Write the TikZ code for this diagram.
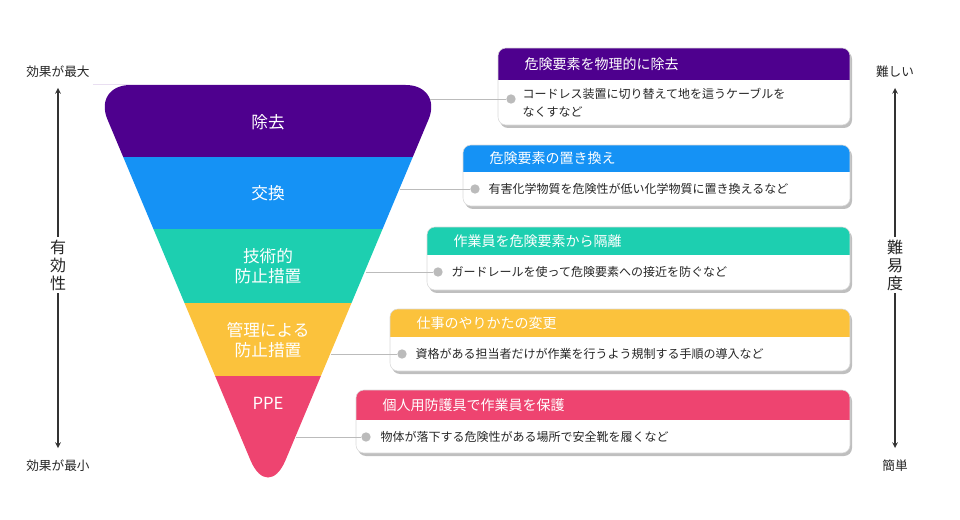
\documentclass[tikz,border=0pt]{standalone}
\usepackage{fontspec}
\setmainfont{Noto Sans CJK JP}
\usetikzlibrary{calc}
\definecolor{cP}{HTML}{4E008E}
\definecolor{cB}{HTML}{1592F5}
\definecolor{cT}{HTML}{1DCFB0}
\definecolor{cY}{HTML}{FBC23C}
\definecolor{cR}{HTML}{EE4470}
\definecolor{cG}{HTML}{BBBBBB}
\tikzset{
 flab/.style={text=white,font=\fontsize{12.5}{15}\selectfont,align=center},
 ttl/.style={text=white,font=\fontsize{10.5}{12}\selectfont,anchor=west},
 bod/.style={text=black!85,font=\fontsize{9}{13.5}\selectfont,anchor=west,align=left},
 dotc/.style={circle,fill=cG,inner sep=0pt,minimum size=7pt},
 conn/.style={draw=cG,line width=0.6pt},
 axl/.style={font=\fontsize{9.5}{11}\selectfont,text=black!85},
 vlab/.style={font=\fontsize{12}{13.5}\selectfont,fill=white,align=center,inner sep=2pt,text=black!85},
 arr/.style={line width=0.9pt,black!80,<->,>=stealth}
}
\newcommand\callbox[5]{% x1 ytop ymid ybot color
 \fill[black!25,rounded corners=6] (#1+2,#2+3) rectangle (852,#4+3);
 \begin{scope}
 \clip[rounded corners=6] (#1,#2) rectangle (850,#4);
 \fill[white] (#1,#2) rectangle (850,#4);
 \fill[#5] (#1,#2) rectangle (850,#3);
 \end{scope}
 \draw[black!15,rounded corners=6,line width=0.4pt] (#1,#2) rectangle (850,#4);
}
\begin{document}
\begin{tikzpicture}[x=0.75pt,y=-0.75pt]
\useasboundingbox (0,0) rectangle (960,520);
% funnel
\begin{scope}
\clip (93,85) [rounded corners=28] -- (443,85) [rounded corners=34] -- (268,502) [rounded corners=28] -- (93,85) -- (200,85) [sharp corners] -- cycle;
\fill[cP] (80,80) rectangle (460,157);
\fill[cB] (80,157) rectangle (460,229);
\fill[cT] (80,229) rectangle (460,303);
\fill[cY] (80,303) rectangle (460,376);
\fill[cR] (80,376) rectangle (460,510);
\end{scope}
\node[flab] (f1) at (268,122) {除去};
\node[flab] (f2) at (268,193) {交換};
\node[flab] (f3) at (268,266) {技術的\\防止措置};
\node[flab] (f4) at (268,340) {管理による\\防止措置};
\node[flab] (f5) at (268,403) {PPE};
% callouts
\callbox{498}{48}{80}{125}{cP}
\node[ttl] (t1) at (520,64) {危険要素を物理的に除去};
\node[bod] (b1) at (518,103) {コードレス装置に切り替えて地を這うケーブルを\\なくすなど};
\callbox{463}{145}{172}{206}{cB}
\node[ttl] (t2) at (485,158) {危険要素の置き換え};
\node[bod] (b2) at (484,189) {有害化学物質を危険性が低い化学物質に置き換えるなど};
\callbox{427}{227}{255}{290}{cT}
\node[ttl] (t3) at (449,241) {作業員を危険要素から隔離};
\node[bod] (b3) at (447,272) {ガードレールを使って危険要素への接近を防ぐなど};
\callbox{390}{309}{337}{371}{cY}
\node[ttl] (t4) at (412,323) {仕事のやりかたの変更};
\node[bod] (b4) at (411,354) {資格がある担当者だけが作業を行うよう規制する手順の導入など};
\callbox{356}{390}{420}{453}{cR}
\node[ttl] (t5) at (378,405) {個人用防護具で作業員を保護};
\node[bod] (b5) at (376,437) {物体が落下する危険性がある場所で安全靴を履くなど};
% dots and connectors
\node[dotc] (d1) at (511,99) {};
\node[dotc] (d2) at (475,189) {};
\node[dotc] (d3) at (438,272) {};
\node[dotc] (d4) at (402,354) {};
\node[dotc] (d5) at (366,437) {};
\coordinate (e1) at (430,99);
\coordinate (e2) at (400,189);
\coordinate (e3) at (366,272);
\coordinate (e4) at (331,354);
\coordinate (e5) at (296,437);
\foreach \i in {1,...,5} \draw[conn] (e\i) -- (d\i);
% axes
\node[axl] (lt) at (58,72) {効果が最大};
\node[axl] (lb) at (58,466) {効果が最小};
\coordinate (la) at (58,88);
\coordinate (lz) at (58,448);
\draw[arr] (la) -- (lz);
\node[vlab] (lv) at (58,265) {有\\効\\性};
\node[axl] (rt) at (895,72) {難しい};
\node[axl] (rb) at (895,466) {簡単};
\coordinate (ra) at (895,88);
\coordinate (rz) at (895,448);
\draw[arr] (ra) -- (rz);
\node[vlab] (rv) at (895,265) {難\\易\\度};
\end{tikzpicture}
\end{document}
